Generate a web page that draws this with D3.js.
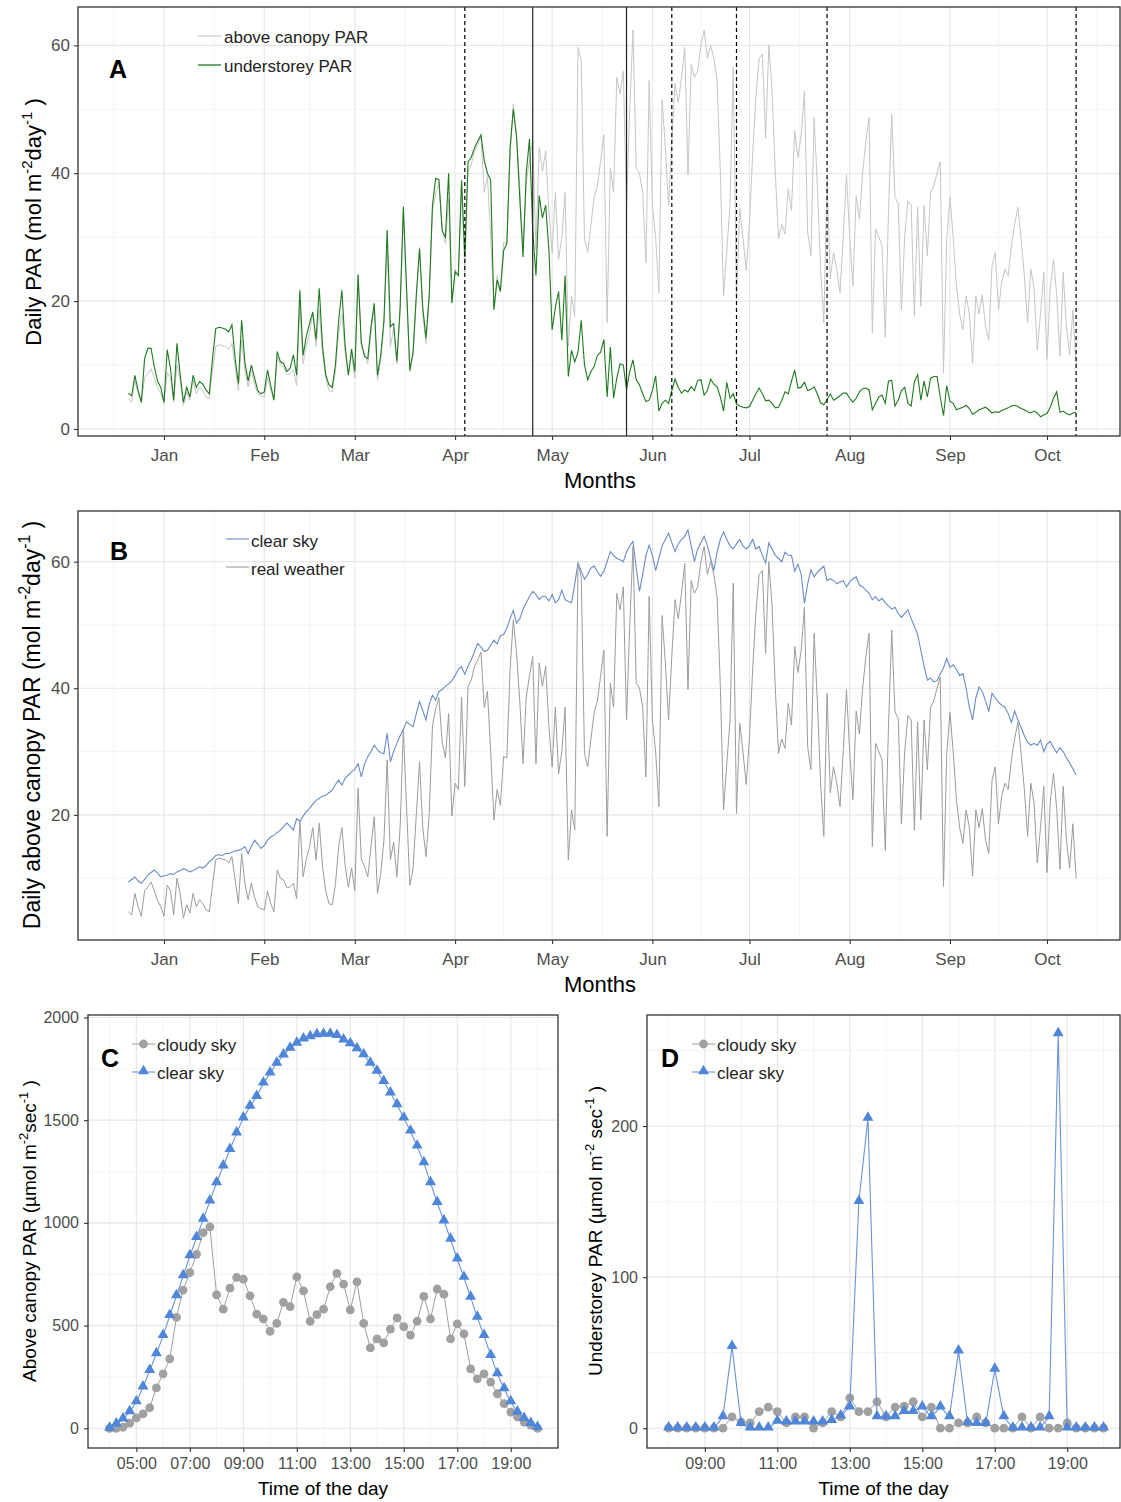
<!DOCTYPE html>
<html>
<head>
<meta charset="utf-8">
<script src="https://cdn.jsdelivr.net/npm/d3@7"></script>
<style>
  body { margin: 0; background: #fff; }
  svg text { font-family: "Liberation Sans", Arial, sans-serif; }
</style>
</head>
<body>
<svg id="fig" width="1121" height="1502"></svg>
<script>
// daily series, first value is 21 Dec 2014, one value per day up to 10 Oct 2015
var firstDay = "2014-12-21";

var aboveCanopy = [
  4.7, 4.2, 7.6, 5.5, 4.0, 8.0, 8.6, 9.4, 8.0, 6.5, 5.5,
  4.0, 8.9, 8.0, 4.2, 10.0, 7.6, 3.7, 5.8, 4.5, 7.6, 5.5, 6.6, 6.0, 5.0, 4.7,
  9.0, 12.9, 13.2, 13.0, 12.9, 12.4, 13.4, 9.7, 6.0, 13.9, 9.2,
  6.6, 9.2, 7.0, 5.5, 5.2, 5.0, 8.0, 6.0, 4.7, 11.3, 10.0, 9.7, 8.5, 8.6, 9.2, 6.8,
  19.2, 10.2, 13.0, 15.0, 18.0, 12.9, 18.7, 11.9,
  8.0, 6.0, 5.8, 9.0, 15.0, 18.0, 12.0, 8.6, 11.6, 8.0, 24.2, 13.0, 11.9, 10.2, 15.0, 19.7, 7.6, 10.7, 16.0,
  28.7, 12.9, 15.7, 10.2, 18.0, 33.4, 21.2, 8.9, 11.5, 20.0, 28.4, 18.0, 13.4, 20.2,
  34.0, 36.8, 38.5, 31.5, 29.0, 36.0, 19.8, 25.0, 24.0, 38.6, 24.5, 40.3, 41.3, 43.5, 44.5, 45.7,
  37.0, 39.5, 30.0, 19.2, 24.0, 21.5, 29.2, 29.0, 43.0, 50.8, 45.5, 38.0, 28.1, 38.6, 42.0,
  45.0, 28.1, 44.0, 40.3, 43.5, 34.0, 27.6, 37.0, 26.5, 30.0, 37.0,
  12.9, 20.8, 17.6, 59.7, 57.6, 29.7, 27.6, 32.0, 36.2, 38.0,
  42.0, 46.0, 16.6, 40.8, 37.0, 55.0, 52.4, 56.0, 35.0, 50.0,
  62.4, 40.8, 40.0, 37.0, 26.0, 54.5, 35.0, 30.0, 21.3, 51.5,
  44.0, 35.0, 45.0, 54.0, 51.0, 55.0, 59.7, 39.8, 57.0, 55.0,
  56.0, 60.0, 62.4, 58.0, 60.0, 58.0, 54.5, 40.3, 20.8, 28.0,
  35.0, 56.6, 20.2, 34.5, 30.0, 24.8, 32.0, 43.0, 52.0, 58.0,
  58.6, 45.5, 60.0, 53.0, 40.0, 29.7, 32.0, 30.5, 37.6, 34.2,
  46.6, 42.5, 46.0, 52.8, 30.8, 27.1, 48.7, 38.0, 25.0, 16.6,
  39.2, 23.5, 27.6, 25.0, 21.3, 30.0, 39.8, 30.0, 22.4, 36.4,
  32.8, 40.0, 45.0, 48.7, 15.0, 31.3, 30.0, 28.7, 14.4, 34.2,
  49.2, 36.3, 35.2, 18.6, 30.0, 35.7, 35.0, 17.6, 34.7, 19.2,
  35.0, 27.1, 37.0, 38.0, 40.0, 41.8, 8.7, 29.7, 36.2, 30.0,
  22.4, 18.0, 15.5, 20.8, 18.0, 10.3, 20.8, 18.0, 21.0, 16.0,
  13.9, 25.5, 27.6, 18.6, 23.0, 25.0, 24.0, 28.7, 32.0, 34.7,
  29.7, 24.0, 16.6, 25.0, 21.9, 12.4, 18.0, 24.5, 10.9, 22.0,
  26.6, 21.0, 11.4, 24.5, 16.0, 11.6, 18.6, 10.0
];

var understorey = [
  5.6, 5.2, 8.4, 6.0, 4.2, 11.0, 12.6, 12.6, 9.7, 7.5, 6.5,
  4.2, 12.4, 9.5, 4.5, 13.4, 8.5, 4.2, 6.5, 5.0, 8.4, 6.5, 7.4, 7.0, 6.1, 5.5,
  11.0, 15.7, 15.9, 15.8, 15.6, 15.2, 16.3, 11.0, 7.1, 17.0, 10.5,
  7.5, 10.0, 8.0, 6.0, 5.5, 5.8, 9.2, 6.8, 4.5, 12.1, 10.5, 10.2, 9.0, 9.5, 11.6, 8.4,
  21.7, 11.5, 14.5, 16.5, 18.3, 14.0, 22.0, 13.0,
  8.5, 6.9, 6.5, 10.0, 17.0, 21.7, 13.0, 8.4, 12.5, 9.0, 24.1, 13.5, 11.3, 11.0, 16.0, 19.6, 8.4, 11.5, 17.0,
  31.1, 16.0, 16.5, 10.6, 19.0, 34.8, 22.0, 9.2, 12.0, 21.0, 28.2, 19.0, 14.2, 21.0,
  35.0, 39.2, 39.0, 31.0, 30.0, 40.0, 19.7, 24.6, 24.0, 38.9, 26.9, 41.8, 42.5, 44.0, 45.0, 46.0,
  42.0, 40.0, 38.9, 18.6, 23.3, 21.5, 27.9, 29.0, 44.0, 50.0, 45.7, 36.0, 26.9, 40.0, 45.4,
  31.0, 24.0, 36.5, 33.0, 35.0, 28.0, 15.5, 19.0, 21.5, 13.9, 24.0,
  8.2, 12.3, 10.5, 12.0, 17.0, 10.0, 7.7, 9.0, 9.8, 11.5,
  12.0, 14.0, 5.0, 12.8, 4.8, 8.0, 10.2, 10.0, 6.2, 9.0,
  10.8, 7.7, 6.9, 5.5, 4.3, 4.5, 6.0, 8.3, 2.8, 4.0,
  4.5, 4.0, 6.0, 7.8, 6.5, 5.6, 6.1, 5.8, 6.6, 6.0,
  7.6, 7.7, 5.3, 6.0, 7.8, 7.0, 6.6, 5.0, 2.8, 7.3,
  4.8, 5.5, 3.9, 3.6, 3.4, 3.3, 3.5, 4.5, 5.5, 6.4,
  5.5, 4.4, 4.5, 4.0, 3.3, 3.4, 4.5, 5.8, 5.5, 7.5,
  9.2, 6.4, 6.5, 7.3, 6.0, 6.2, 6.6, 5.5, 4.1, 3.8,
  4.6, 5.5, 4.5, 4.8, 5.2, 5.6, 5.6, 4.8, 4.2, 4.8,
  5.8, 6.3, 6.4, 6.1, 3.0, 4.0, 5.0, 5.3, 4.0, 7.5,
  7.6, 3.6, 4.5, 6.0, 6.5, 4.0, 3.6, 7.4, 8.5, 4.5,
  7.5, 5.0, 7.9, 8.2, 8.2, 5.0, 2.1, 6.8, 4.3, 4.0,
  3.0, 3.2, 3.4, 3.7, 3.2, 2.3, 2.6, 3.0, 3.2, 3.4,
  3.0, 2.5, 2.7, 2.6, 2.9, 3.1, 3.3, 3.6, 3.7, 3.5,
  3.2, 3.0, 2.7, 2.5, 2.8, 2.5, 1.9, 2.2, 2.4, 3.4,
  4.8, 5.8, 2.6, 2.8, 2.4, 2.2, 2.5, 2.6
];

var clearSkyDaily = [
  9.4, 9.8, 10.2, 9.6, 9.2, 9.8, 10.5, 10.9, 11.3, 10.8, 10.2,
  10.4, 10.5, 10.7, 10.6, 11.0, 11.2, 11.5, 11.3, 11.0, 11.2,
  11.5, 11.8, 11.6, 12.0, 12.6, 13.0, 13.6, 13.7, 13.6, 13.9,
  13.9, 14.1, 14.3, 14.4, 14.6, 15.0, 13.9, 15.0, 16.0, 15.4, 14.7,
  15.2, 16.0, 16.5, 16.8, 17.2, 17.6, 18.2, 18.7, 18.2, 17.6, 19.4,
  19.0, 19.8, 20.5, 21.0, 21.7, 22.3, 22.6, 23.0, 23.1, 23.5,
  23.9, 24.8, 25.5, 24.7, 25.8, 26.3, 26.8, 27.2, 28.1, 26.0,
  28.0, 29.2, 30.0, 31.0, 30.3, 29.8, 29.7, 32.9, 28.4, 30.0, 31.3,
  32.5, 33.5, 34.7, 34.3, 33.9, 36.0, 37.9, 36.5, 35.0, 37.5, 38.9,
  38.1, 39.5, 39.8, 40.3, 40.7, 41.2, 42.0, 43.0, 43.4, 42.2, 43.5,
  44.5, 45.8, 47.1, 46.5, 45.8, 46.0, 46.8, 47.6, 47.0, 48.3,
  48.5, 49.5, 51.0, 52.3, 50.3, 51.0, 52.5, 53.5, 54.5, 55.3,
  54.8, 54.0, 54.5, 54.5, 53.8, 54.8, 53.5, 54.0, 55.5, 54.0,
  53.7, 53.5, 56.5, 59.8, 58.5, 57.2, 58.0, 59.0, 59.3, 58.4,
  57.7, 58.5, 60.0, 61.6, 61.0, 60.5, 60.3, 60.0, 61.5, 62.5,
  63.2, 59.0, 55.3, 58.0, 61.0, 62.6, 61.0, 58.6, 60.5, 62.5,
  63.5, 64.5, 63.0, 61.6, 62.8, 63.5, 64.0, 65.0, 62.5, 60.0,
  62.0, 63.0, 64.0, 62.5, 60.5, 58.6, 61.5, 63.5, 64.7, 63.5,
  62.5, 62.0, 62.8, 63.5, 62.5, 62.0, 62.5, 63.5, 62.0, 62.4,
  61.0, 59.8, 63.0, 62.0, 61.0, 60.5, 60.0, 61.5, 61.0, 61.0,
  58.5, 59.6, 58.0, 53.4, 56.5, 58.7, 57.6, 58.3, 58.8, 59.3,
  57.0, 57.3, 57.0, 56.5, 56.8, 57.0, 56.0, 56.8, 57.3, 57.6,
  56.3, 56.0, 55.5, 55.0, 54.0, 54.5, 53.8, 54.2, 53.5, 53.0,
  52.5, 52.8, 51.8, 51.2, 51.8, 52.4, 51.0, 49.8, 48.5, 46.0,
  43.5, 41.3, 41.6, 41.0, 41.2, 42.3, 43.2, 44.7, 43.3, 43.7,
  43.0, 42.0, 42.3, 40.0, 37.0, 35.0, 38.5, 40.2, 39.5, 38.0,
  36.3, 39.2, 38.5, 37.8, 37.3, 37.0, 36.0, 34.6, 36.4, 35.0,
  33.8, 32.5, 31.5, 31.0, 31.3, 31.0, 31.8, 30.0, 31.2, 31.6,
  30.6, 29.8, 30.6, 30.0, 29.0, 28.2, 27.3, 26.3
];

var monthNames = ["Jan", "Feb", "Mar", "Apr", "May", "Jun", "Jul", "Aug", "Sep", "Oct"];
var dashedDays = ["2015-04-04", "2015-06-07", "2015-06-27", "2015-07-25", "2015-10-10"];
var solidDays = ["2015-04-25", "2015-05-24"];

// 15 minute readings, C from 04:00 to 20:00, D from 08:00 to 20:00
var cStartHour = 4;
var cloudyAbove = [0, 0, 5, 25, 50, 70, 100, 197, 265, 338, 540, 673, 758, 847, 952, 981,
  650, 580, 682, 734, 726, 645, 556, 532, 472, 511, 613, 592, 737, 669, 521, 553,
  580, 689, 754, 702, 576, 713, 511, 391, 435, 416, 483, 537, 495, 454, 521, 642,
  532, 678, 653, 435, 508, 459, 289, 241, 265, 225, 168, 120, 79, 55, 30, 15, 0];
var clearAbove = [0, 20, 45, 80, 128, 200, 281, 362, 451, 548, 645, 742, 839, 928, 1017, 1106,
  1195, 1276, 1357, 1437, 1510, 1567, 1615, 1680, 1729, 1777, 1817, 1850, 1874, 1895, 1906, 1915,
  1918, 1918, 1911, 1890, 1871, 1847, 1818, 1777, 1737, 1688, 1632, 1575, 1510, 1446, 1373, 1292,
  1195, 1098, 1009, 920, 823, 734, 637, 540, 451, 354, 265, 192, 128, 79, 47, 23, 3];

var dStartHour = 8;
var cloudyUnder = [0, 0, 0, 0, 0, 0, 0, 7.5, 4, 3.5, 11, 14, 11, 3.5, 7.5, 7.5, 0, 3.5, 11, 7.5,
  20, 11, 11, 17.5, 7.5, 14, 14.6, 17.5, 7.5, 14, 0, 0, 3.5, 3.5, 7.5, 3.5, 0, 0, 0, 7.5,
  0, 7.5, 0, 0, 3.5, 0, 0, 0, 0];
var clearUnder = [0, 0, 0, 0, 0, 0, 7.5, 54, 3, 0, 0, 0, 4.5, 4, 4, 4, 4, 4, 5, 8,
  14, 150, 205, 7.5, 7.5, 7.5, 11, 11, 14, 7.5, 14, 7.5, 51, 3.5, 3, 3, 39, 7.5, 0, 0,
  0, 0, 7.5, 261, 0, 0, 0, 0, 0];

var FONT = '"Liberation Sans", Arial, sans-serif';
var svg = d3.select("#fig");
svg.append("rect").attr("width", 1121).attr("height", 1502).attr("fill", "#fff");

var parseDay = d3.utcParse("%Y-%m-%d");
var day0 = parseDay(firstDay);
var daily = aboveCanopy.map(function(v, i) {
  return { date: d3.utcDay.offset(day0, i), above: v, under: understorey[i], clear: clearSkyDaily[i] };
});

var xDay = d3.scaleUtc()
  .domain([parseDay("2015-01-01"), parseDay("2015-10-01")])
  .range([164, 1047]);
var monthTicks = d3.utcMonth.range(parseDay("2015-01-01"), parseDay("2015-10-02"));
var monthEdges = d3.utcMonth.range(parseDay("2014-12-01"), parseDay("2015-11-02"));
var monthMinorX = d3.pairs(monthEdges).map(function(p) { return (xDay(p[0]) + xDay(p[1])) / 2; });

function grid(box, xMinor, xMajor, yMinor, yMajor) {
  var g = svg.append("g");
  function vline(x, w, c) {
    g.append("line").attr("x1", x).attr("x2", x).attr("y1", box.top).attr("y2", box.bottom)
      .attr("stroke", c).attr("stroke-width", w);
  }
  function hline(y, w, c) {
    g.append("line").attr("x1", box.left).attr("x2", box.right).attr("y1", y).attr("y2", y)
      .attr("stroke", c).attr("stroke-width", w);
  }
  xMinor.forEach(function(x) { vline(x, 0.8, "#f1f1f1"); });
  yMinor.forEach(function(y) { hline(y, 0.8, "#f1f1f1"); });
  xMajor.forEach(function(x) { vline(x, 1.1, "#e6e6e6"); });
  yMajor.forEach(function(y) { hline(y, 1.1, "#e6e6e6"); });
}

function frame(box) {
  svg.append("rect").attr("x", box.left).attr("y", box.top)
    .attr("width", box.right - box.left).attr("height", box.bottom - box.top)
    .attr("fill", "none").attr("stroke", "#333").attr("stroke-width", 1.3);
}

function styleAxis(sel, size) {
  sel.select(".domain").remove();
  sel.selectAll(".tick line").attr("stroke", "#333").attr("stroke-width", 1.1);
  sel.selectAll(".tick text").attr("fill", "#4d4d4d")
    .style("font-size", size + "px").style("font-family", FONT);
}

// rotated y title with superscripts, parts = [[text, isSup], ...]
function yTitle(x, y, size, parts) {
  var t = svg.append("text")
    .attr("transform", "translate(" + x + "," + y + ") rotate(-90)")
    .attr("text-anchor", "middle")
    .attr("fill", "#000")
    .style("font-size", size + "px");
  var shift = 0;
  parts.forEach(function(p) {
    var s = p[1] ? -0.42 * size : 0;
    var ts = t.append("tspan").attr("dy", s - shift).text(p[0]);
    if (p[1]) ts.style("font-size", (0.68 * size) + "px");
    shift = s;
  });
}

function label(x, y, txt, size, opts) {
  opts = opts || {};
  return svg.append("text").attr("x", x).attr("y", y)
    .attr("text-anchor", opts.anchor || "start")
    .attr("fill", opts.fill || "#000")
    .style("font-size", size + "px")
    .style("font-weight", opts.bold ? "bold" : "normal")
    .text(txt);
}

function monthAxis(box) {
  var ax = svg.append("g")
    .attr("transform", "translate(0," + box.bottom + ")")
    .call(d3.axisBottom(xDay).tickValues(monthTicks).tickSize(4).tickPadding(9)
      .tickFormat(function(d, i) { return monthNames[i]; }));
  styleAxis(ax, 17);
}

// ---------- panel A ----------
var boxA = { left: 78, right: 1120, top: 7, bottom: 436 };
var yA = d3.scaleLinear().domain([-1.1, 66]).range([boxA.bottom, boxA.top]);
grid(boxA, monthMinorX, monthTicks.map(xDay), [10, 30, 50].map(yA), [0, 20, 40, 60].map(yA));

var lineAbove = d3.line().x(function(d) { return xDay(d.date); }).y(function(d) { return yA(d.above); });
var lineUnder = d3.line().x(function(d) { return xDay(d.date); }).y(function(d) { return yA(d.under); });
svg.append("path").datum(daily).attr("d", lineAbove)
  .attr("fill", "none").attr("stroke", "#c6c6c6").attr("stroke-width", 1);
svg.append("path").datum(daily).attr("d", lineUnder)
  .attr("fill", "none").attr("stroke", "#1f7a1f").attr("stroke-width", 1.1);

dashedDays.forEach(function(s) {
  var x = xDay(parseDay(s));
  svg.append("line").attr("x1", x).attr("x2", x).attr("y1", boxA.top).attr("y2", boxA.bottom)
    .attr("stroke", "#000").attr("stroke-width", 1.2).attr("stroke-dasharray", "4,3");
});
solidDays.forEach(function(s) {
  var x = xDay(parseDay(s));
  svg.append("line").attr("x1", x).attr("x2", x).attr("y1", boxA.top).attr("y2", boxA.bottom)
    .attr("stroke", "#222").attr("stroke-width", 1.2);
});
frame(boxA);

var axAy = svg.append("g").attr("transform", "translate(" + boxA.left + ",0)")
  .call(d3.axisLeft(yA).tickValues([0, 20, 40, 60]).tickSize(4).tickPadding(4));
styleAxis(axAy, 17);
monthAxis(boxA);
label(600, 488, "Months", 22, { anchor: "middle" });
yTitle(41, 222, 22, [["Daily PAR (mol m", 0], ["-2", 1], ["day", 0], ["-1", 1], [" )", 0]]);

label(109, 78, "A", 25, { bold: true });
svg.append("line").attr("x1", 198).attr("x2", 221).attr("y1", 36).attr("y2", 36)
  .attr("stroke", "#c6c6c6").attr("stroke-width", 1.1);
label(224, 43, "above canopy PAR", 17, { fill: "#222" });
svg.append("line").attr("x1", 198).attr("x2", 221).attr("y1", 65).attr("y2", 65)
  .attr("stroke", "#1f7a1f").attr("stroke-width", 1.3);
label(224, 72, "understorey PAR", 17, { fill: "#222" });

// ---------- panel B ----------
var boxB = { left: 78, right: 1120, top: 511, bottom: 940 };
var yB = d3.scaleLinear().domain([0.24, 68]).range([boxB.bottom, boxB.top]);
grid(boxB, monthMinorX, monthTicks.map(xDay), [10, 30, 50].map(yB), [20, 40, 60].map(yB));

var lineClear = d3.line().x(function(d) { return xDay(d.date); }).y(function(d) { return yB(d.clear); });
var lineReal = d3.line().x(function(d) { return xDay(d.date); }).y(function(d) { return yB(d.above); });
svg.append("path").datum(daily).attr("d", lineClear)
  .attr("fill", "none").attr("stroke", "#6a8cc4").attr("stroke-width", 1.1);
svg.append("path").datum(daily).attr("d", lineReal)
  .attr("fill", "none").attr("stroke", "#9c9c9c").attr("stroke-width", 1);
frame(boxB);

var axBy = svg.append("g").attr("transform", "translate(" + boxB.left + ",0)")
  .call(d3.axisLeft(yB).tickValues([20, 40, 60]).tickSize(4).tickPadding(4));
styleAxis(axBy, 17);
monthAxis(boxB);
label(600, 992, "Months", 22, { anchor: "middle" });
yTitle(40, 725, 23, [["Daily above canopy PAR (mol m", 0], ["-2", 1], ["day", 0], ["-1", 1], [" )", 0]]);

label(110, 560, "B", 25, { bold: true });
svg.append("line").attr("x1", 226).attr("x2", 249).attr("y1", 539).attr("y2", 539)
  .attr("stroke", "#6a8cc4").attr("stroke-width", 1.1);
label(251, 547, "clear sky", 17, { fill: "#222" });
svg.append("line").attr("x1", 226).attr("x2", 249).attr("y1", 567).attr("y2", 567)
  .attr("stroke", "#9c9c9c").attr("stroke-width", 1.1);
label(251, 575, "real weather", 17, { fill: "#222" });

// ---------- panels C and D ----------
var GREY = "#a0a0a0", BLUE_LINE = "#6b93d6", BLUE_PT = "#4f86d8";
var tri = d3.symbol().type(d3.symbolTriangle).size(52);

function hourLabel(h) { return (h < 10 ? "0" : "") + h + ":00"; }

function dayPanel(box, startHour, xRange, yDomain, yTicks, yMinor, cloudy, clear) {
  var endHour = startHour + (cloudy.length - 1) / 4;
  var x = d3.scaleLinear().domain([startHour, endHour]).range(xRange);
  var y = d3.scaleLinear().domain(yDomain).range([box.bottom, box.top]);
  var majorH = d3.range(startHour + 1, endHour, 2);
  var minorH = d3.range(startHour, endHour + 0.01, 2);
  grid(box, minorH.map(x), majorH.map(x), yMinor.map(y), yTicks.map(y));

  var hours = cloudy.map(function(v, i) { return startHour + i / 4; });
  var ln = d3.line().x(function(d) { return x(d[0]); }).y(function(d) { return y(d[1]); });
  var cloudyPts = hours.map(function(h, i) { return [h, cloudy[i]]; });
  var clearPts = hours.map(function(h, i) { return [h, clear[i]]; });

  svg.append("path").datum(cloudyPts).attr("d", ln)
    .attr("fill", "none").attr("stroke", GREY).attr("stroke-width", 1);
  svg.append("g").selectAll("circle").data(cloudyPts).enter().append("circle")
    .attr("cx", function(d) { return x(d[0]); }).attr("cy", function(d) { return y(d[1]); })
    .attr("r", 4.4).attr("fill", GREY);
  svg.append("path").datum(clearPts).attr("d", ln)
    .attr("fill", "none").attr("stroke", BLUE_LINE).attr("stroke-width", 1.1);
  svg.append("g").selectAll("path").data(clearPts).enter().append("path")
    .attr("d", tri)
    .attr("transform", function(d) { return "translate(" + x(d[0]) + "," + (y(d[1]) - 0.8) + ")"; })
    .attr("fill", BLUE_PT);
  frame(box);

  var ay = svg.append("g").attr("transform", "translate(" + box.left + ",0)")
    .call(d3.axisLeft(y).tickValues(yTicks).tickSize(4).tickPadding(5).tickFormat(d3.format("d")));
  styleAxis(ay, 16);
  var axx = svg.append("g").attr("transform", "translate(0," + box.bottom + ")")
    .call(d3.axisBottom(x).tickValues(majorH).tickSize(4).tickPadding(6).tickFormat(hourLabel));
  styleAxis(axx, 16);
  label((box.left + box.right) / 2, 1495, "Time of the day", 19, { anchor: "middle" });
}

function dayLegend(x0, letter) {
  label(x0 - 31, 1067, letter, 25, { bold: true });
  svg.append("line").attr("x1", x0).attr("x2", x0 + 23).attr("y1", 1044).attr("y2", 1044)
    .attr("stroke", GREY).attr("stroke-width", 1.1);
  svg.append("circle").attr("cx", x0 + 11.5).attr("cy", 1044).attr("r", 4.4).attr("fill", GREY);
  label(x0 + 25, 1051, "cloudy sky", 17, { fill: "#222" });
  svg.append("line").attr("x1", x0).attr("x2", x0 + 23).attr("y1", 1072).attr("y2", 1072)
    .attr("stroke", BLUE_LINE).attr("stroke-width", 1.1);
  svg.append("path").attr("d", tri).attr("transform", "translate(" + (x0 + 11.5) + ",1071)").attr("fill", BLUE_PT);
  label(x0 + 25, 1079, "clear sky", 17, { fill: "#222" });
}

var boxC = { left: 88, right: 558, top: 1015, bottom: 1448 };
dayPanel(boxC, cStartHour, [109.6, 537.5], [-96, 2012], [0, 500, 1000, 1500, 2000],
  [250, 750, 1250, 1750], cloudyAbove, clearAbove);
yTitle(36, 1231, 19, [["Above canopy PAR (\u00b5mol m", 0], ["-2", 1], ["sec", 0], ["-1", 1], [" )", 0]]);
dayLegend(132, "C");

var boxD = { left: 647, right: 1120, top: 1015, bottom: 1448 };
dayPanel(boxD, dStartHour, [668.6, 1103.5], [-13.1, 273.5], [0, 100, 200],
  [50, 150, 250], cloudyUnder, clearUnder);
yTitle(602, 1231, 19, [["Understorey PAR (\u00b5mol m", 0], ["-2", 1], [" sec", 0], ["-1", 1], [" )", 0]]);
dayLegend(692, "D");
</script>
</body>
</html>
